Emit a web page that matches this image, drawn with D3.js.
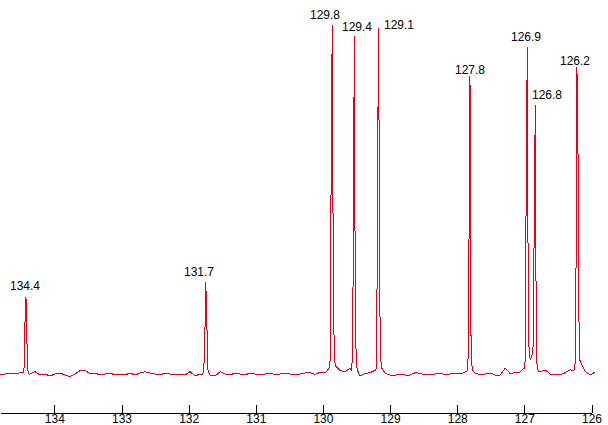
<!DOCTYPE html>
<html><head><meta charset="utf-8">
<script src="https://cdn.jsdelivr.net/npm/d3@7"></script>
<style>
html,body{margin:0;padding:0;background:#fff;overflow:hidden}
svg{display:block}
text{font-family:"Liberation Sans",Arial,sans-serif;font-size:12px;fill:#000}
</style></head><body>
<svg id="c" width="608" height="425"></svg>
<script>
// ---- data (chemical shift in ppm, intensity in arbitrary units) ----
const axisTicks = [134, 133, 132, 131, 130, 129, 128, 127, 126];
const peakPpm = [134.423, 131.746, 129.861, 129.533, 129.170, 127.810, 126.956, 126.837, 126.220];
const peakLabels = ["134.4", "131.7", "129.8", "129.4", "129.1", "127.8", "126.9", "126.8", "126.2"];
// sampled points around each maximum (offsets -3..+3 samples, step profileStep ppm)
const profileStep = 0.0149;
const peakProfiles = [
  [1, 4, 51, 77, 31, 3, 0],
  [0, 4, 27, 92, 61, 5, 2],
  [6, 16, 234, 349, 94, 20, 8],
  [4, 14, 114, 338, 64, 10, 4],
  [4, 8, 224, 346, 80, 15, 6],
  [3, 10, 128, 298, 40, 8, 3],
  [6, 14, 219, 327, 42, 21, 14],
  [20, 30, 164, 269, 21, 6, 3],
  [3, 6, 20, 307, 281, 67, 14]
];
// baseline (noise) samples
const baseStart = 134.81, baseStep = 0.0745;
const baselineNoise = [
  -1, 0, 1, 0, 1.3, 2, 0, 2.3, -1, 0, -2, 0, 1, -1, -2.7, 0, 3.3, 4, 0, 1,
  -1, 0, 1, -1, 0, -1, 1, -1, 1, 2.3, 1, 0, -1, 1, 0, -1, 0, -1, 2.3, -2,
  0, 3, -1, -2, 2.3, 0, -1, 1, 0, -1, 1, 0, -1, 0, 1, -1, 0, 1, 0, -1,
  0, 1, 1.3, -0.5, 1.7, 1, 3, 4.5, 3.3, 2.3, 6, 5, -2, 0.7, 1.3, 4, 5, 0.7, -1, -1.3,
  0, -1, -1, 1.3, 0.7, -1, 0, 0, 1, -1, 0, 1, 0, 2, 3, 1, -1, 0, 1, -1,
  -1, 5.7, 0.5, 1.3, 2, 5, 15, 10, 2.3, 4, 0, -0.5, -1, 1.3, 4.3, 8, 8, 2.3, -1, 2
];

// ---- layout ----
const labelDx = [-1, -7, -7, 3, 20, 0, -1, 12, -2];
const labelDy = [-7, -6, -6, -5, 1, -2, -6, -6, -2];

const svg = d3.select("#c");
const x = d3.scaleLinear().domain([134.81, 126]).range([0, 591.5]);
const y = d3.scaleLinear().domain([0, 350]).range([374, 24]);

// build spectrum points
const pts = [];
const pxPerPpm = Math.abs(x(1) - x(0));
baselineNoise.forEach((v, i) => {
  const p = baseStart - i * baseStep;
  const near = peakPpm.some(c => Math.abs(c - p) * pxPerPpm < 3.6);
  if (!near) pts.push([p, v]);
});
peakProfiles.forEach((prof, k) => {
  prof.forEach((v, j) => pts.push([peakPpm[k] + (3 - j) * profileStep, v]));
});
pts.sort((a, b) => b[0] - a[0]);

const line = d3.line().x(d => x(d[0])).y(d => y(d[1]));
svg.append("path")
  .attr("d", line(pts))
  .attr("fill", "none")
  .attr("stroke", "#e2001a")
  .attr("stroke-width", 1)
  .attr("shape-rendering", "crispEdges");

// peak labels
svg.append("g").selectAll("text").data(peakLabels).join("text")
  .attr("text-anchor", "middle")
  .attr("x", (d, i) => Math.round(x(peakPpm[i]) + labelDx[i]))
  .attr("y", (d, i) => Math.round(y(d3.max(peakProfiles[i])) + labelDy[i]))
  .text(d => d);

// axis
const ax = d3.axisBottom(x).tickValues(axisTicks).tickSize(-8).tickSizeOuter(0)
  .tickFormat(d3.format("d")).tickPadding(3);
const g = svg.append("g").attr("transform", "translate(0,413)").call(ax);
g.selectAll("path,line").attr("stroke", "#000").attr("shape-rendering", "crispEdges");
g.selectAll("text").attr("font-family", null).attr("font-size", null)
  .attr("y", 10).attr("dy", null).attr("fill", "#000");
</script>
</body></html>
